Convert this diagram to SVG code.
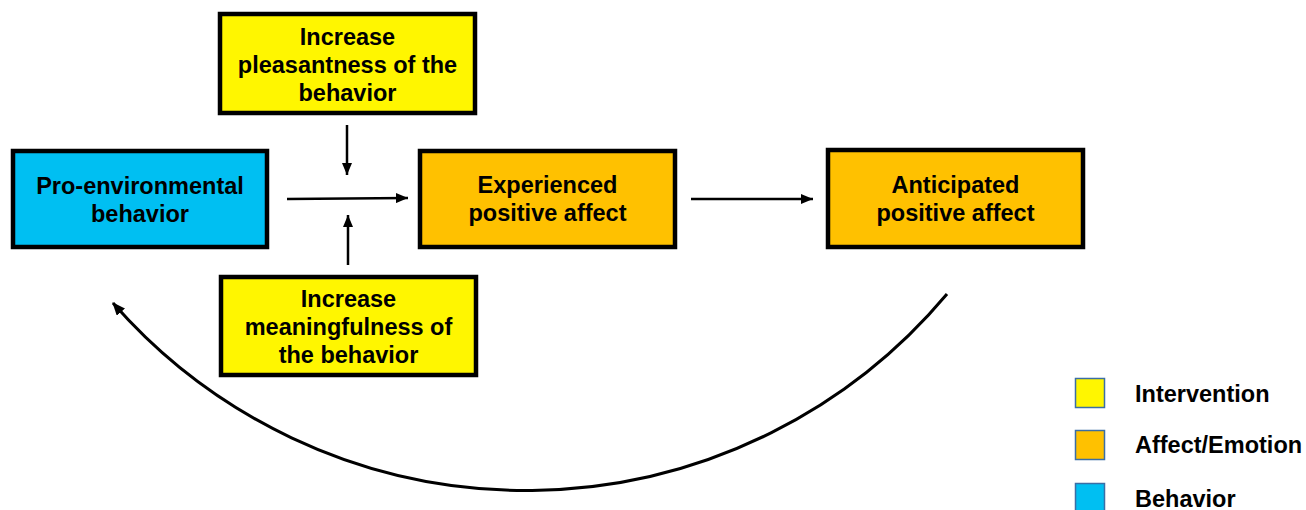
<svg xmlns="http://www.w3.org/2000/svg" width="1306" height="510" viewBox="0 0 1306 510">
  <style>
    .box { stroke: #000; stroke-width: 4.5; }
    .int { fill: #FFF600; }
    .aff { fill: #FFC100; }
    .beh { fill: #00BFF2; }
    .lbl { font-family: "Liberation Sans", Arial, sans-serif; font-weight: bold; font-size: 23.5px; fill: #000; text-anchor: middle; }
    .leg { font-family: "Liberation Sans", Arial, sans-serif; font-weight: bold; font-size: 23.5px; fill: #000; }
    .conn { stroke: #000; stroke-width: 2.5; fill: none; }
    .curve { stroke: #000; stroke-width: 3; fill: none; }
    .sw { stroke: #3b6ea5; stroke-width: 1.5; }
  </style>
  <defs>
    <marker id="arr" markerUnits="userSpaceOnUse" viewBox="0 0 12 10" refX="12" refY="5" markerWidth="12" markerHeight="10" orient="auto">
      <path d="M0,0 L12,5 L0,10 Z" fill="#000"/>
    </marker>
    <marker id="arr2" markerUnits="userSpaceOnUse" viewBox="0 0 13 11" refX="12" refY="5.5" markerWidth="13" markerHeight="11" orient="auto">
      <path d="M0,0 L13,5.5 L0,11 Z" fill="#000"/>
    </marker>
  </defs>

  <g id="connectors">
    <line class="conn" x1="347" y1="125" x2="347" y2="175" marker-end="url(#arr)"/>
    <line class="conn" x1="348" y1="265" x2="348" y2="215" marker-end="url(#arr)"/>
    <line class="conn" x1="287" y1="199" x2="408" y2="198" marker-end="url(#arr)"/>
    <line class="conn" x1="691" y1="199" x2="813" y2="199" marker-end="url(#arr)"/>
    <path class="curve" d="M947,294 A549,549 0 0 1 113,303" marker-end="url(#arr2)"/>
  </g>

  <g id="node-pleasantness">
    <rect class="box int" x="220" y="14" width="255" height="99"/>
    <text class="lbl" x="347.5" y="45">Increase</text>
    <text class="lbl" x="347.5" y="73">pleasantness of the</text>
    <text class="lbl" x="347.5" y="101">behavior</text>
  </g>

  <g id="node-proenv">
    <rect class="box beh" x="13" y="151" width="254" height="96"/>
    <text class="lbl" x="140" y="194">Pro-environmental</text>
    <text class="lbl" x="140" y="222">behavior</text>
  </g>

  <g id="node-experienced">
    <rect class="box aff" x="420" y="151" width="255" height="96"/>
    <text class="lbl" x="547.5" y="193">Experienced</text>
    <text class="lbl" x="547.5" y="221">positive affect</text>
  </g>

  <g id="node-anticipated">
    <rect class="box aff" x="828" y="150" width="255" height="97"/>
    <text class="lbl" x="955.5" y="193">Anticipated</text>
    <text class="lbl" x="955.5" y="221">positive affect</text>
  </g>

  <g id="node-meaningfulness">
    <rect class="box int" x="221" y="277" width="255" height="98"/>
    <text class="lbl" x="348.5" y="307">Increase</text>
    <text class="lbl" x="348.5" y="335">meaningfulness of</text>
    <text class="lbl" x="348.5" y="363">the behavior</text>
  </g>

  <g id="legend">
    <rect class="sw int" x="1075.5" y="378.5" width="29" height="29"/>
    <text class="leg" x="1135" y="402">Intervention</text>
    <rect class="sw aff" x="1075.5" y="430.5" width="29" height="29"/>
    <text class="leg" x="1135" y="453">Affect/Emotion</text>
    <rect class="sw beh" x="1075.5" y="483.5" width="29" height="29"/>
    <text class="leg" x="1135" y="507">Behavior</text>
  </g>
</svg>
